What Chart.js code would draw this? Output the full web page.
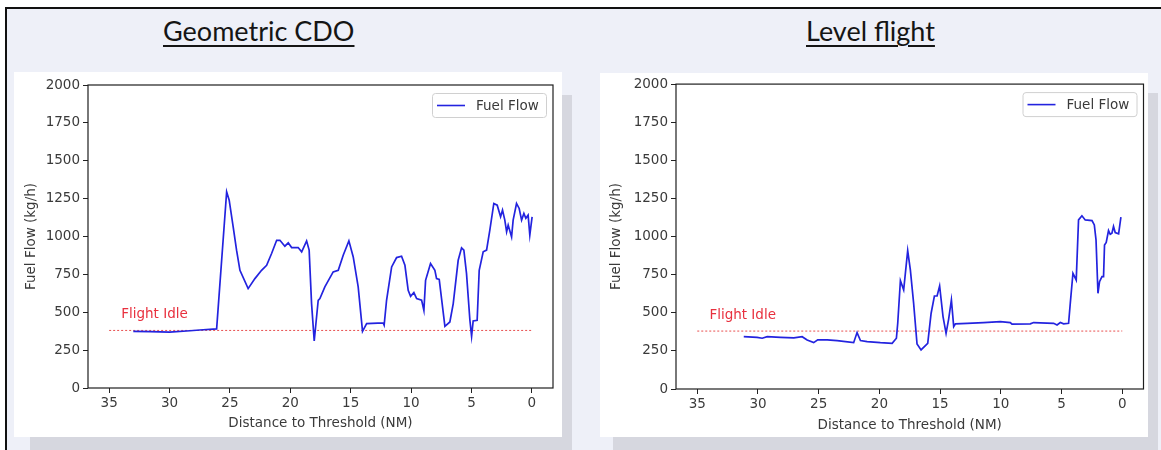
<!DOCTYPE html>
<html>
<head>
<meta charset="utf-8">
<script src="https://cdn.jsdelivr.net/npm/chart.js@4.4.1/dist/chart.umd.min.js"></script>
<style>
  html, body { margin: 0; padding: 0; }
  body { width: 1161px; height: 450px; position: relative; overflow: hidden; background: #fff; }
  .abs { position: absolute; }
  #slide { left: 5px; top: 7px; width: 1156px; height: 443px; box-sizing: border-box;
           background: #eef0f8; border-left: 2px solid #111; border-top: 2px solid #111; }
  .shadow { background: #d6d7df; }
  .panel { background: #fff; }
  .title { font-family: Lato, "Open Sans", sans-serif; font-size: 27px; color: #151515;
           text-decoration: underline; text-decoration-thickness: 2px; text-underline-offset: 4px;
           white-space: nowrap; }
  canvas { display: block; }
</style>
</head>
<body>
<div id="slide" class="abs"></div>
<div class="abs shadow" style="left:30px;top:95px;width:542px;height:355px"></div>
<div class="abs shadow" style="left:613px;top:93px;width:545px;height:357px"></div>
<div class="abs panel" style="left:14px;top:72px;width:548px;height:365px"><canvas id="cdoChart" width="548" height="365"></canvas></div>
<div class="abs panel" style="left:600px;top:73px;width:548px;height:364px"><canvas id="levelChart" width="548" height="364"></canvas></div>
<div class="abs title" style="left:163px;top:14px">Geometric CDO</div>
<div class="abs title" style="left:806px;top:14px">Level flight</div>

<script>
// Axis ticks (distance runs from 35 NM down to the threshold)
var xTicks = [35, 30, 25, 20, 15, 10, 5, 0];
var yTicks = [0, 250, 500, 750, 1000, 1250, 1500, 1750, 2000];

// Geometric CDO: distance to threshold (NM) / fuel flow (kg/h)
var cdoDist = [33.0, 31.6, 30.0, 28.3, 27.5, 26.1, 25.27, 25.06, 24.73, 24.45, 24.17, 23.49, 22.93, 22.38,
  21.96, 21.55, 21.13, 20.86, 20.45, 20.17, 19.89, 19.35, 19.06, 18.65, 18.44, 18.24, 18.02, 17.69, 17.55,
  17.14, 16.45, 16.03, 15.62, 15.15, 14.79, 14.38, 14.02, 13.68, 12.31, 12.23, 12.03, 11.61, 11.2, 10.79,
  10.51, 10.24, 10.04, 9.77, 9.54, 9.13, 8.94, 8.8, 8.39, 8.03, 7.89, 7.67, 7.2, 6.79, 6.51, 6.1, 5.82,
  5.63, 5.41, 5.13, 4.99, 4.86, 4.53, 4.36, 4.03, 3.75, 3.48, 3.15, 2.87, 2.59, 2.43, 2.24, 2.09, 1.96,
  1.68, 1.55, 1.27, 1.05, 0.85, 0.66, 0.5, 0.31, 0.17, -0.02];
var cdoFlow = [374, 372, 369, 378, 383, 390, 1295, 1240, 1064, 910, 777, 656, 722, 777,
  810, 888, 975, 975, 936, 958, 927, 927, 899, 971, 910, 557, 310, 579, 590,
  667, 766, 777, 876, 971, 865, 667, 374, 425, 430, 415, 579, 799, 861, 870,
  810, 645, 605, 630, 590, 580, 513, 711, 821, 777, 722, 717, 407, 436, 557, 843, 925,
  910, 755, 447, 341, 443, 447, 777, 899, 910, 1042, 1218, 1207, 1130, 1174, 1108, 1031, 1075,
  997, 1108, 1218, 1185, 1108, 1152, 1120, 1141, 1009, 1130];

// Level flight
var levelDist = [31.17, 30.07, 29.65, 29.24, 28.15, 27.05, 26.36, 25.95, 25.41, 25.08, 24.3, 23.48, 22.12,
  21.84, 21.56, 21.01, 19.92, 18.95, 18.6, 18.49, 18.27, 18.0, 17.67, 17.45, 17.18, 16.9, 16.57, 16.02,
  15.74, 15.47, 15.25, 15.04, 14.76, 14.51, 14.3, 14.07, 13.88, 13.74, 12.78, 11.42, 10.04, 9.22, 9.08,
  7.57, 7.3, 5.65, 5.37, 5.1, 4.83, 4.42, 4.28, 4.06, 3.79, 3.6, 3.32, 3.05, 2.49, 2.3, 2.16, 2.0, 1.87,
  1.67, 1.54, 1.46, 1.32, 1.13, 0.99, 0.85, 0.72, 0.58, 0.3, 0.11];
var levelFlow = [343, 339, 333, 343, 339, 336, 343, 322, 304, 322, 322, 317, 304,
  370, 318, 311, 304, 300, 333, 431, 711, 650, 908, 781, 562, 295, 256, 300,
  497, 610, 610, 676, 475, 365, 457, 584, 409, 427, 431, 436, 442, 436, 425,
  427, 436, 431, 420, 436, 427, 431, 562, 759, 715, 1109, 1136, 1109, 1105, 1076, 978, 628, 704,
  737, 737, 945, 961, 1039, 1015, 1022, 1066, 1026, 1018, 1127];

// Flight idle reference line and its label
var idleDist = [35, 0];
var idleFlow = [380, 380];
var idleText = 'Flight Idle';
var idleTextAt = [34, 482];

var seriesLabel = 'Fuel Flow';
var xTitle = 'Distance to Threshold (NM)';
var yTitle = 'Fuel Flow (kg/h)';

var tickFont = { family: 'DejaVu Sans', size: 13.5 };
var textColor = '#3a3a3a';

function toPoints(xs, ys) {
  return xs.map(function (x, i) { return { x: x, y: ys[i] }; });
}

function plainTick(v) { return String(v); }

// box around plot, idle label and the matplotlib style legend
var decorations = {
  id: 'decorations',
  afterDatasetsDraw: function (chart) {
    var ctx = chart.ctx, a = chart.chartArea;
    var sx = chart.scales.x, sy = chart.scales.y;
    ctx.save();
    ctx.strokeStyle = '#1e1e1e';
    ctx.lineWidth = 1.2;
    ctx.strokeRect(a.left, a.top, a.right - a.left, a.bottom - a.top);

    ctx.font = '13.5px "DejaVu Sans"';
    ctx.fillStyle = '#e8303e';
    ctx.textBaseline = 'middle';
    ctx.textAlign = 'left';
    ctx.fillText(idleText, sx.getPixelForValue(idleTextAt[0]), sy.getPixelForValue(idleTextAt[1]));

    var w = 114, h = 24;
    var lx = a.right - 7 - w, ly = a.top + 8;
    ctx.beginPath();
    ctx.roundRect(lx + 0.5, ly + 0.5, w, h, 3);
    ctx.fillStyle = 'rgba(255,255,255,0.85)';
    ctx.fill();
    ctx.strokeStyle = '#d0d0d0';
    ctx.lineWidth = 1;
    ctx.stroke();
    ctx.beginPath();
    ctx.moveTo(lx + 5, ly + h / 2 + 0.5);
    ctx.lineTo(lx + 33, ly + h / 2 + 0.5);
    ctx.strokeStyle = chart.data.datasets[0].borderColor;
    ctx.lineWidth = 1.6;
    ctx.stroke();
    ctx.fillStyle = textColor;
    ctx.fillText(chart.data.datasets[0].label, lx + 44, ly + h / 2 + 1);
    ctx.restore();
  }
};

function makeChart(id, dist, flow, g) {
  return new Chart(document.getElementById(id), {
    type: 'line',
    data: {
      datasets: [{
        label: seriesLabel,
        data: toPoints(dist, flow),
        borderColor: '#2323df',
        borderWidth: 1.7,
        pointRadius: 0,
        tension: 0
      }, {
        label: idleText,
        data: toPoints(idleDist, idleFlow),
        borderColor: '#e85050',
        borderWidth: 1,
        borderDash: [2, 2],
        pointRadius: 0
      }]
    },
    options: {
      responsive: false,
      animation: false,
      events: [],
      layout: { padding: { left: 0, top: g.top, right: g.right, bottom: 0 } },
      plugins: { legend: { display: false }, tooltip: { enabled: false } },
      scales: {
        x: {
          type: 'linear',
          reverse: true,
          min: -1.75,
          max: 36.75,
          afterBuildTicks: function (s) { s.ticks = xTicks.map(function (v) { return { value: v }; }); },
          afterFit: function (s) { s.height = g.xh; },
          ticks: { font: tickFont, color: textColor, padding: 2, maxRotation: 0, callback: plainTick },
          grid: { drawOnChartArea: false, drawTicks: true, tickLength: 5, color: '#222' },
          border: { display: false },
          title: { display: true, text: xTitle, font: tickFont, color: textColor, padding: { top: 0, bottom: g.xtp } }
        },
        y: {
          min: 0,
          max: 2000,
          afterBuildTicks: function (s) { s.ticks = yTicks.map(function (v) { return { value: v }; }); },
          afterFit: function (s) { s.width = g.yw; },
          ticks: { font: tickFont, color: textColor, padding: 3, callback: plainTick },
          grid: { drawOnChartArea: false, drawTicks: true, tickLength: 5, color: '#222' },
          border: { display: false },
          title: { display: true, text: yTitle, font: tickFont, color: textColor, padding: { top: g.ytp, bottom: 0 } }
        }
      }
    },
    plugins: [decorations]
  });
}

makeChart('cdoChart', cdoDist, cdoFlow, { top: 13, right: 9, xh: 49, yw: 74, xtp: 5.6, ytp: 9.6 });
makeChart('levelChart', levelDist, levelFlow, { top: 11, right: 4.5, xh: 48, yw: 76, xtp: 3.9, ytp: 8.6 });
</script>
</body>
</html>
